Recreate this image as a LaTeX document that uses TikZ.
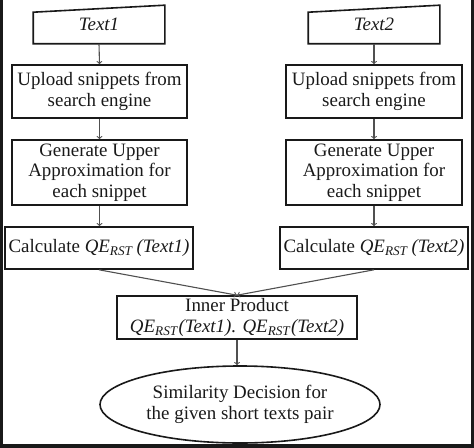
\documentclass[tikz,border=0pt]{standalone}
\usepackage{fontspec}
\setmainfont{Liberation Serif}
\usetikzlibrary{arrows,shapes,positioning}
\definecolor{fcline}{RGB}{25,25,25}
\definecolor{fcarrow}{RGB}{80,80,80}
\tikzstyle{box} = [draw=fcline, line width=1.6bp, align=center, inner sep=0pt, text=fcline, font=\fontsize{19}{20.5}\selectfont]
\tikzstyle{outline} = [draw=fcline, line width=1.6bp]
\tikzstyle{arrow} = [->, >=to, line width=1.1bp, color=fcarrow]
\newcommand{\qers}{\textit{QE}\textsubscript{\textit{RST}}}

\begin{document}
\begin{tikzpicture}[x=1bp, y=-1bp]
\useasboundingbox (0,0) rectangle (474,448);
% Frame
\draw[line width=3.5bp, color=fcline] (1.5,0) -- (1.5,446.2) -- (472.3,446.2) -- (472.3,0);

% Inputs
\node[box, draw=none, minimum width=130bp, minimum height=37bp] (text1) at (99,24.5) {\raisebox{-3bp}{\textit{Text1}}};
\draw[outline] ([yshift=-7bp]text1.north west) -- (text1.north east) -- (text1.south east) -- (text1.south west) -- cycle;
\node[box, draw=none, minimum width=130bp, minimum height=37bp] (text2) at (374,24.5) {\raisebox{-3bp}{\textit{Text2}}};
\draw[outline] ([yshift=-7bp]text2.north west) -- (text2.north east) -- (text2.south east) -- (text2.south west) -- cycle;

% Left branch
\node[box, minimum width=175bp, minimum height=53bp] (up1) at (99.5,91.5) {Upload snippets from\\search engine};
\node[box, minimum width=175bp, minimum height=65bp] (gen1) at (99.5,172.5) {Generate Upper\\Approximation for\\each snippet};
\node[box, minimum width=188bp, minimum height=42bp] (calc1) at (99,248) {Calculate \qers\,\textit{(Text1)}};

% Right branch
\node[box, minimum width=176bp, minimum height=53bp] (up2) at (374,91.5) {Upload snippets from\\search engine};
\node[box, minimum width=176bp, minimum height=65bp] (gen2) at (374,172.5) {Generate Upper\\Approximation for\\each snippet};
\node[box, minimum width=188bp, minimum height=42bp] (calc2) at (374,248) {Calculate \qers\,\textit{(Text2)}};

% Merge
\node[box, minimum width=240bp, minimum height=43bp] (prod) at (237,317.5) {Inner Product\\\qers\textit{(Text1). }\qers\textit{(Text2)}};
\node[box, ellipse, minimum width=280bp, minimum height=77bp] (dec) at (240,404.5) {Similarity Decision for\\the given short texts pair};

% Arrows
\draw[arrow] (text1.south) -- (up1.north);
\draw[arrow] (up1.south) -- (gen1.north);
\draw[arrow] (gen1.south) -- (calc1.north -| gen1.south);
\draw[arrow] (text2.south) -- (up2.north);
\draw[arrow] (up2.south) -- (gen2.north);
\draw[arrow] (gen2.south) -- (calc2.north -| gen2.south);
\draw[arrow] (calc1.south) -- (prod.north);
\draw[arrow] (calc2.south) -- (prod.north);
\draw[arrow] (prod.south) -- (prod.south |- dec.north);
\end{tikzpicture}
\end{document}
